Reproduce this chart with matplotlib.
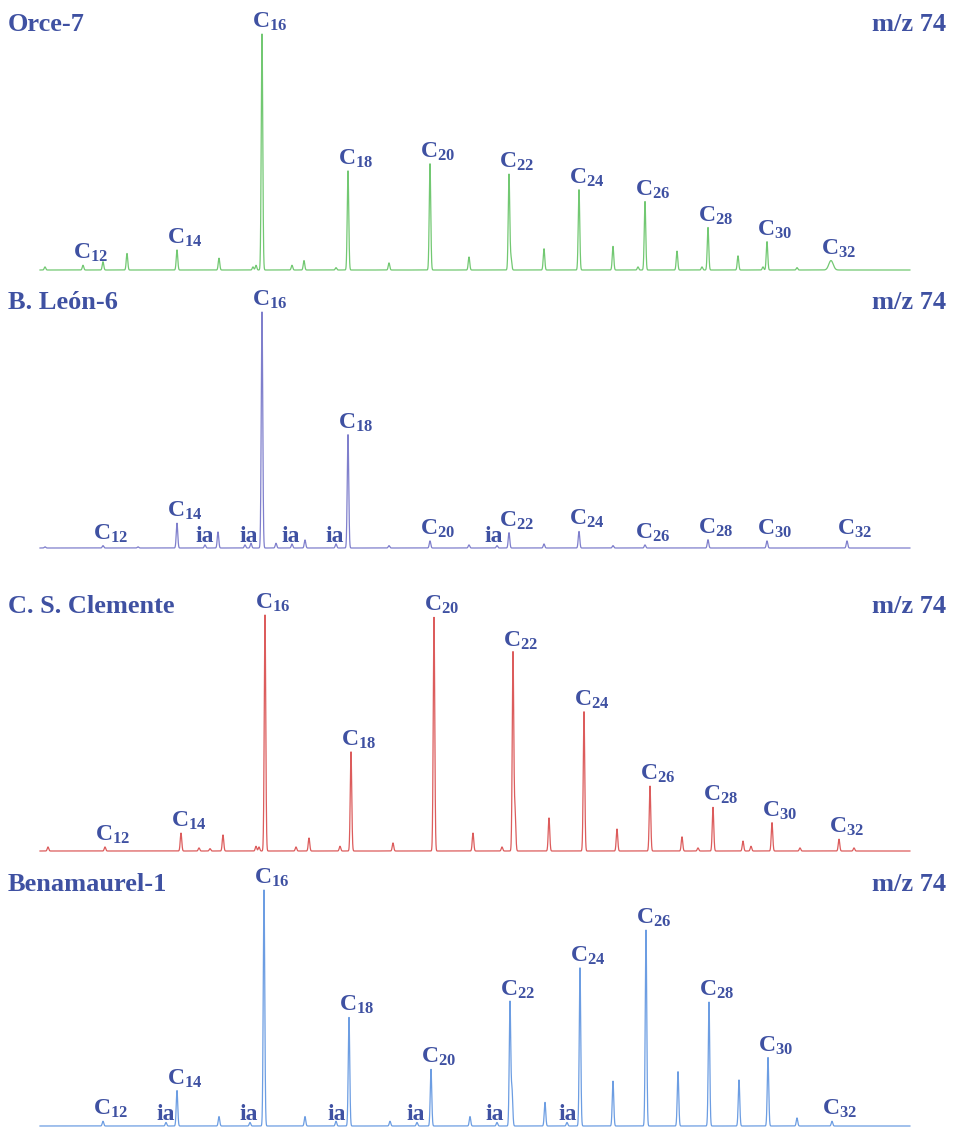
import numpy as np
import matplotlib
matplotlib.use("Agg")
import matplotlib.pyplot as plt

plt.rcParams['font.family'] = ['Liberation Serif', 'DejaVu Serif']
plt.rcParams['font.weight'] = 'bold'
plt.rcParams['mathtext.fontset'] = 'custom'
plt.rcParams['mathtext.default'] = 'regular'

# sample names and colours of the m/z 74 traces
samples = ['Orce-7', 'B. León-6', 'C. S. Clemente', 'Benamaurel-1']
colors = ['#72c872', '#7f7fcc', '#dc5c5c', '#6c9de2']
text_color = '#3f51a2'

# labelled n-alkanoic acid methyl esters (retention time, rel. abundance)
chain = ['12', '14', '16', '18', '20', '22', '24', '26', '28', '30', '32']

rt_orce = [8.3, 17.7, 26.2, 34.8, 43.0, 50.9, 57.9, 64.5, 70.8, 76.7, 83.1]
ab_orce = [2.0, 8.5, 100, 42, 45, 40.5, 34, 29, 18, 12, 4]

rt_leon = [10.3, 17.7, 26.2, 34.8, 43.0, 50.9, 57.9, 64.5, 70.8, 76.7, 84.7]
ab_leon = [1.0, 10.5, 100, 48, 3, 6.5, 7, 1.3, 3.5, 3.0, 3.0]

rt_clem = [10.5, 18.1, 26.5, 35.1, 43.4, 51.3, 58.4, 65.0, 71.3, 77.2, 83.9]
ab_clem = [1.7, 7.6, 100, 42, 99, 84, 59, 27.5, 18.5, 12, 5]

rt_bena = [10.3, 17.7, 26.4, 34.9, 43.1, 51.0, 58.0, 64.6, 70.9, 76.8, 83.2]
ab_bena = [2.0, 15, 100, 46, 24, 52.5, 67, 83, 52.5, 29, 2.0]

# unlabelled peaks (retention time, rel. abundance)
rt_orce_x = [4.5, 10.3, 12.7, 21.9, 25.3, 25.6, 29.2, 30.4, 33.6, 38.9, 46.9,
             51.1, 54.4, 61.3, 63.8, 67.7, 70.2, 73.8, 76.3, 79.7]
ab_orce_x = [1.3, 3.5, 7, 5, 1.3, 2, 2, 4, 1, 3, 5.5,
             5, 9, 10, 1.3, 8, 1.3, 6, 1.3, 1]

rt_leon_x = [4.5, 13.8, 20.5, 21.8, 24.5, 25.1, 27.6, 29.2, 30.5, 33.6, 38.9,
             46.9, 49.7, 54.4, 61.3]
ab_leon_x = [0.5, 0.5, 1.3, 6.8, 1.3, 2, 2, 1.7, 3.4, 1.7, 1,
             1.3, 1, 1.7, 1]

rt_clem_x = [4.8, 19.9, 21.0, 22.3, 25.6, 25.9, 29.6, 30.9, 34.0, 39.3, 47.3,
             50.2, 51.5, 54.9, 61.7, 68.2, 69.8, 74.3, 75.1, 80.0, 85.4]
ab_clem_x = [1.7, 1.3, 1, 6.8, 2, 1.7, 1.7, 5.5, 2, 3.4, 7.6,
             1.7, 17, 14, 9.3, 6, 1.3, 4.2, 2, 1.3, 1.3]

rt_bena_x = [16.6, 21.9, 25.0, 30.5, 33.6, 39.0, 41.7, 47.0, 49.7, 51.2, 54.5,
             56.7, 61.3, 67.8, 73.9, 79.7]
ab_bena_x = [1.5, 4, 1.5, 4, 2, 2, 1.5, 4, 1.5, 15, 10,
             1.5, 19, 23, 19.5, 3.4]

# "ia" (iso/anteiso) label positions
ia_leon = [20.5, 24.9, 29.1, 33.5, 49.4]
ia_bena = [16.6, 24.9, 33.7, 41.6, 49.5, 56.8]

panels = [
    (rt_orce, ab_orce, rt_orce_x, ab_orce_x, []),
    (rt_leon, ab_leon, rt_leon_x, ab_leon_x, ia_leon),
    (rt_clem, ab_clem, rt_clem_x, ab_clem_x, []),
    (rt_bena, ab_bena, rt_bena_x, ab_bena_x, ia_bena),
]

# layout (pixels)
W, H = 958, 1128
baselines = [270, 548, 851, 1126]
title_y = [31, 309, 613, 891]
px_per_unit = 2.36

fig = plt.figure(figsize=(W / 100, H / 100), dpi=100)

t = np.arange(4.0, 91.0, 0.01)

for i, (rt, ab, rt_x, ab_x, ia) in enumerate(panels):
    b = baselines[i]
    ax = fig.add_axes([0, 1 - (b + 2) / H, 1, 272 / H])
    ax.set_xlim(0, W / 10)
    ax.set_ylim(-2 / px_per_unit, 270 / px_per_unit)
    ax.axis('off')

    y = np.zeros_like(t)
    for r, a in zip(list(rt) + list(rt_x), list(ab) + list(ab_x)):
        sig = 0.075
        y += a * np.exp(-0.5 * ((t - r) / sig) ** 2)
    # broad late peak of C32 in Orce-7
    if i == 0:
        y -= ab[-1] * np.exp(-0.5 * ((t - rt[-1]) / 0.075) ** 2)
        y += ab[-1] * np.exp(-0.5 * ((t - rt[-1]) / 0.22) ** 2)
    ax.plot(t, y, color=colors[i], lw=0.9)

    for c, r, a in zip(chain, rt, ab):
        ax.annotate('C$_{%s}$' % c, xy=(r, a), xytext=(-10, 1),
                    textcoords='offset pixels', ha='left', va='bottom',
                    fontsize=17, color=text_color, fontweight='bold')
    for r in ia:
        ax.annotate('ia', xy=(r, 0), xytext=(0, 1), textcoords='offset pixels',
                    ha='center', va='bottom', fontsize=17, color=text_color,
                    fontweight='bold')

    fig.text(8 / W, 1 - title_y[i] / H, samples[i], fontsize=19,
             color=text_color, fontweight='bold', ha='left', va='baseline')
    fig.text(946 / W, 1 - title_y[i] / H, 'm/z 74', fontsize=19,
             color=text_color, fontweight='bold', ha='right', va='baseline')

fig.savefig('out.png', dpi=100)
